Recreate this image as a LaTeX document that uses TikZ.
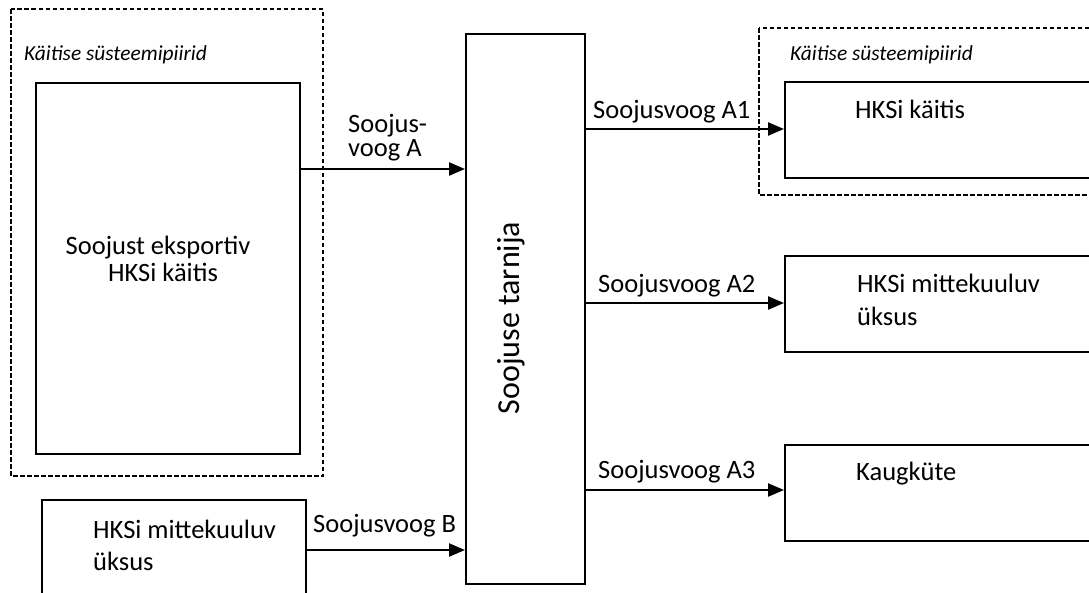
\documentclass[tikz,border=0pt]{standalone}
\usepackage{fontspec}
\setmainfont{Carlito}
\usetikzlibrary{arrows.meta}
\begin{document}
\begin{tikzpicture}[x=1pt,y=-1pt,
  box/.style={draw,line width=1.6pt,inner sep=0pt,anchor=north west},
  sysbound/.style={draw,dash pattern=on 4.5pt off 2.5pt,line width=1.4pt},
  txt/.style={anchor=base west,inner sep=0pt,font=\fontsize{26.5}{32}\selectfont},
  ital/.style={anchor=base west,inner sep=0pt,font=\fontsize{21.4}{26}\selectfont\itshape},
  flow/.style={line width=2.3pt,-{Triangle[length=16pt,width=13pt]}}]
\useasboundingbox (0,0) rectangle (1089,592);
% system boundaries
\draw[sysbound] (11,9) rectangle (323,476);
\draw[sysbound] (759,28) rectangle (1100,195);
\node[ital] (lb1) at (24,60) {Käitise süsteemipiirid};
\node[ital] (lb2) at (790,60) {Käitise süsteemipiirid};
% boxes
\node[box,minimum width=264pt,minimum height=371pt] (exp) at (35,82) {};
\node[box,minimum width=119pt,minimum height=550pt] (sup) at (465,33) {};
\node[box,minimum width=310pt,minimum height=96pt] (k1) at (784,81) {};
\node[box,minimum width=310pt,minimum height=96pt] (k2) at (784,255) {};
\node[box,minimum width=310pt,minimum height=96pt] (k3) at (784,444) {};
\node[box,minimum width=264pt,minimum height=110pt] (bu) at (41,499) {};
% box texts
\node[txt,anchor=base] (t1) at (158,254) {Soojust eksportiv};
\node[txt,anchor=base] (t2) at (163,281) {HKSi käitis};
\node[rotate=90,anchor=base,inner sep=0pt,font=\fontsize{32}{36}\selectfont] (ts) at (519,318) {Soojuse tarnija};
\node[txt] (tk1) at (855,118) {HKSi käitis};
\node[txt] (tk2) at (857,292) {HKSi mittekuuluv};
\node[txt] (tk2b) at (857,325) {üksus};
\node[txt] (tk3) at (856,480) {Kaugküte};
\node[txt] (tb1) at (93,538) {HKSi mittekuuluv};
\node[txt] (tb2) at (93,570) {üksus};
% flows
\draw[flow] (exp.east |- 0,169) -- (sup.west |- 0,169);
\node[txt] (la1) at (348,132) {Soojus-};
\node[txt] (la2) at (348,156) {voog A};
\draw[flow] (bu.east |- 0,550) -- (sup.west |- 0,550);
\node[txt] (lb) at (313,532) {Soojusvoog B};
\draw[flow] (sup.east |- 0,129) -- (k1.west |- 0,129);
\node[txt] (l1) at (593,118) {Soojusvoog A1};
\draw[flow] (sup.east |- 0,303) -- (k2.west |- 0,303);
\node[txt] (l2) at (598,292) {Soojusvoog A2};
\draw[flow] (sup.east |- 0,490) -- (k3.west |- 0,490);
\node[txt] (l3) at (598,478) {Soojusvoog A3};
\end{tikzpicture}
\end{document}
